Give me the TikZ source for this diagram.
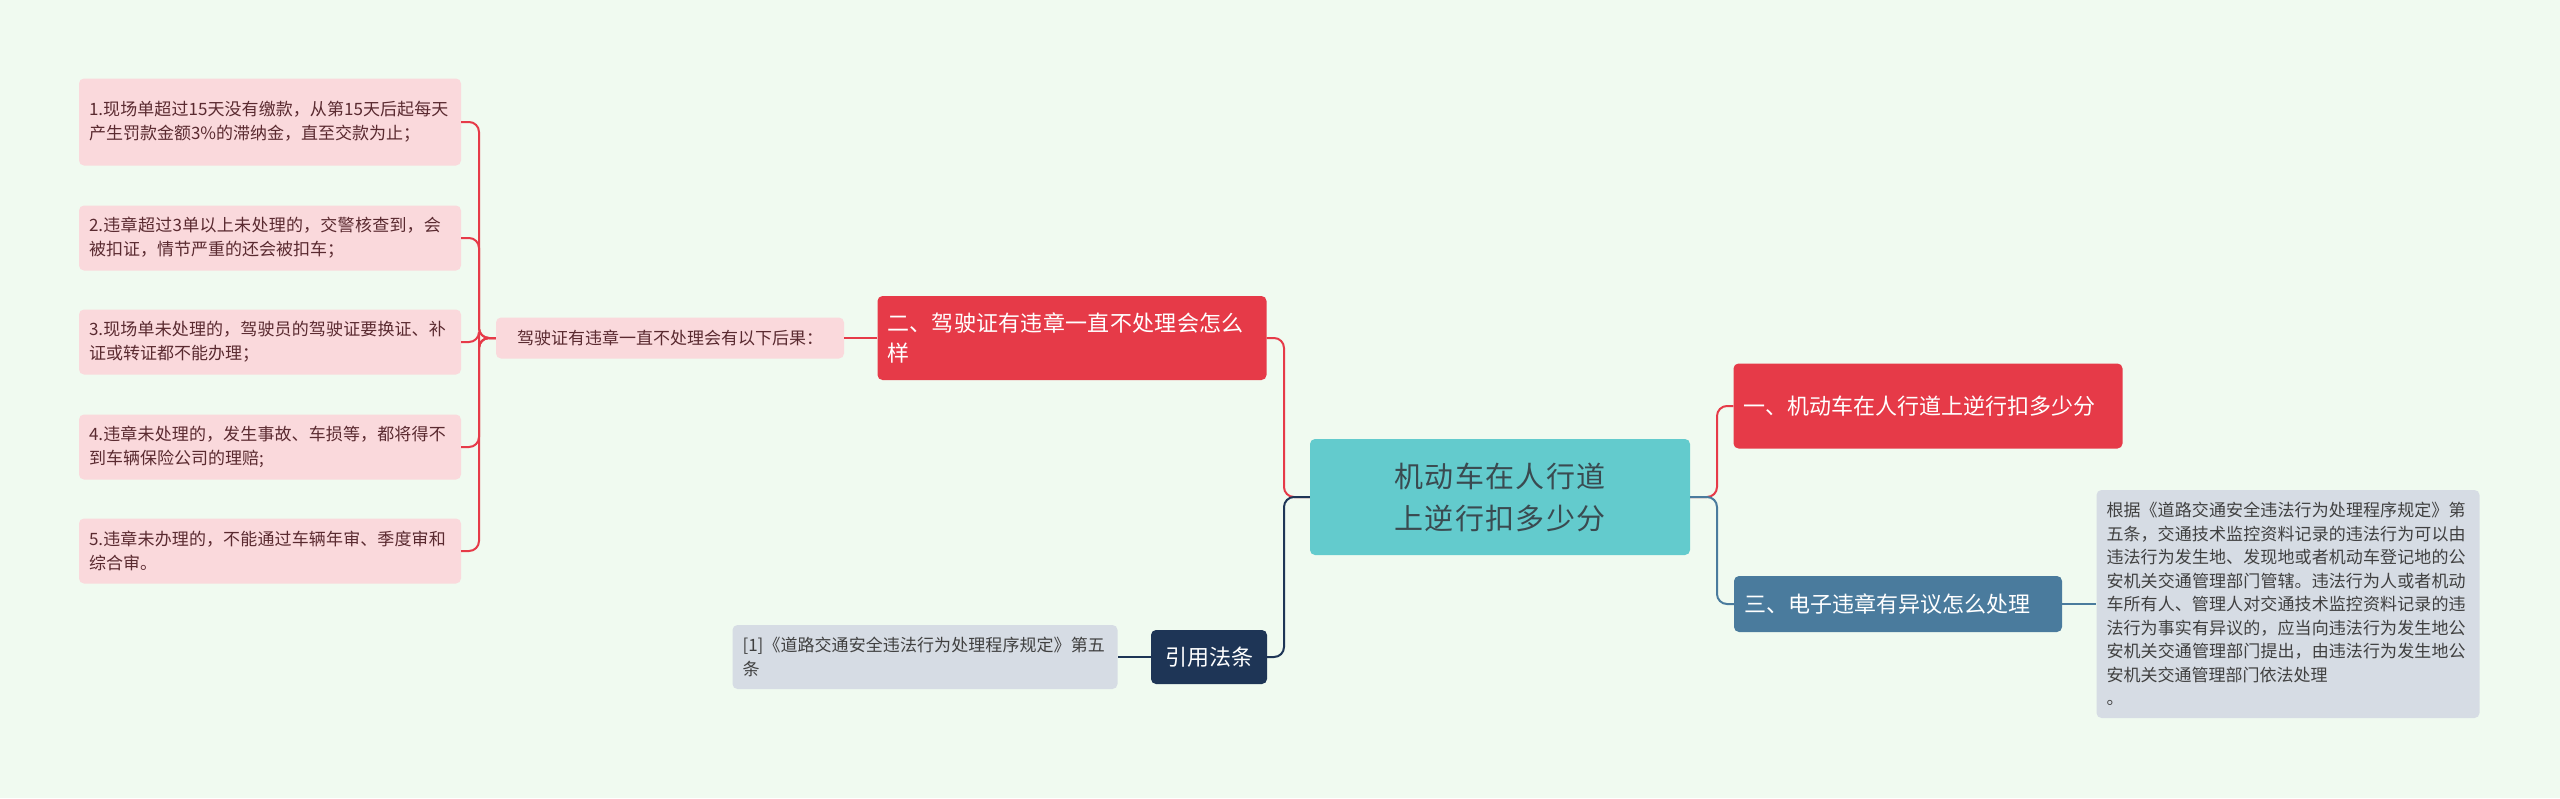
\documentclass[tikz,border=0pt]{standalone}
\usepackage{fontspec}
\setmainfont{Noto Sans CJK SC}
\XeTeXlinebreaklocale "zh"
\XeTeXlinebreakskip=0pt plus 1pt
\begin{document}
\begin{tikzpicture}[x=1pt,y=-1pt,
 box/.style={rounded corners=5pt,inner xsep=10pt,inner ysep=4pt,align=left,anchor=center},
 leaf/.style={box,fill=leafc,text=leaftx,font=\fontsize{17}{24}\selectfont,text width=362pt,minimum height=65pt},
 red/.style={box,fill=redc,text=white,font=\fontsize{22}{30}\selectfont},
 ln/.style={line width=2pt,rounded corners=10pt}]
\definecolor{bg}{HTML}{F0FAF0}
\definecolor{leafc}{HTML}{FAD9DC}
\definecolor{leaftx}{HTML}{5A2A30}
\definecolor{redc}{HTML}{E63A48}
\definecolor{teal}{HTML}{63CBCD}
\definecolor{bluec}{HTML}{4A7B9D}
\definecolor{navy}{HTML}{1E3556}
\definecolor{grayc}{HTML}{D6DCE4}
\definecolor{ctext}{HTML}{3A4A50}
\fill[bg] (0,0) rectangle (2560,798);
\useasboundingbox (0,0) rectangle (2560,798);
\node[box,fill=teal,text=ctext,font=\fontsize{29}{42}\selectfont,text width=360pt,minimum height=116pt,align=center] (c) at (1500,497) {机动车在人行道上逆行扣多少分};
\node[red,text width=369pt,minimum height=85pt] (b1) at (1928,406) {一、机动车在人行道上逆行扣多少分};
\node[box,fill=bluec,text=white,font=\fontsize{22}{30}\selectfont,text width=308pt,minimum height=56pt] (b3) at (1898,604) {三、电子违章有异议怎么处理};
\node[box,fill=grayc,text=darkgray,font=\fontsize{17}{23.5}\selectfont,text width=363pt,minimum height=228pt,inner xsep=10pt] (r) at (2288,604) {根据《道路交通安全违法行为处理程序规定》第五条，交通技术监控资料记录的违法行为可以由违法行为发生地、发现地或者机动车登记地的公安机关交通管理部门管辖。违法行为人或者机动车所有人、管理人对交通技术监控资料记录的违法行为事实有异议的，应当向违法行为发生地公安机关交通管理部门提出，由违法行为发生地公安机关交通管理部门依法处理\\。};
\node[red,text width=369pt,minimum height=84pt] (b2) at (1072,338) {二、驾驶证有违章一直不处理会怎么样};
\node[box,fill=navy,text=white,font=\fontsize{22}{30}\selectfont,minimum width=116pt,minimum height=54pt,align=center] (b4) at (1209,657) {引用法条};
\node[box,fill=grayc,text=darkgray,font=\fontsize{17}{24}\selectfont,text width=365pt,minimum height=64pt] (ref) at (925,657) {[1]《道路交通安全违法行为处理程序规定》第五条};
\node[box,fill=leafc,text=leaftx,font=\fontsize{17}{24}\selectfont,minimum width=348pt,minimum height=41pt,align=center] (m) at (670,338) {驾驶证有违章一直不处理会有以下后果：};
\node[leaf,minimum height=87pt] (l1) at (270,122) {1.现场单超过15天没有缴款，从第15天后起每天产生罚款金额3\%的滞纳金，直至交款为止；};
\node[leaf] (l2) at (270,238) {2.违章超过3单以上未处理的，交警核查到，会被扣证，情节严重的还会被扣车；};
\node[leaf] (l3) at (270,342) {3.现场单未处理的，驾驶员的驾驶证要换证、补证或转证都不能办理；};
\node[leaf] (l4) at (270,447) {4.违章未处理的，发生事故、车损等，都将得不到车辆保险公司的理赔;};
\node[leaf] (l5) at (270,551) {5.违章未办理的，不能通过车辆年审、季度审和综合审。};
\draw[ln,redc] (c.east) -- (1717,497) |- (b1.west);
\draw[ln,bluec] (c.east) -- (1717,497) |- (b3.west);
\draw[ln,bluec] (b3.east) -- (r.west);
\draw[ln,redc] (c.west) -- (1284,497) |- (b2.east);
\draw[ln,navy] (c.west) -- (1284,497) |- (b4.east);
\draw[ln,navy] (b4.west) -- (ref.east);
\draw[ln,redc] (b2.west) -- (m.east);
\foreach \i in {1,...,5}{\draw[ln,redc] (m.west) -- (479,338) |- (l\i.east);}
\end{tikzpicture}
\end{document}
